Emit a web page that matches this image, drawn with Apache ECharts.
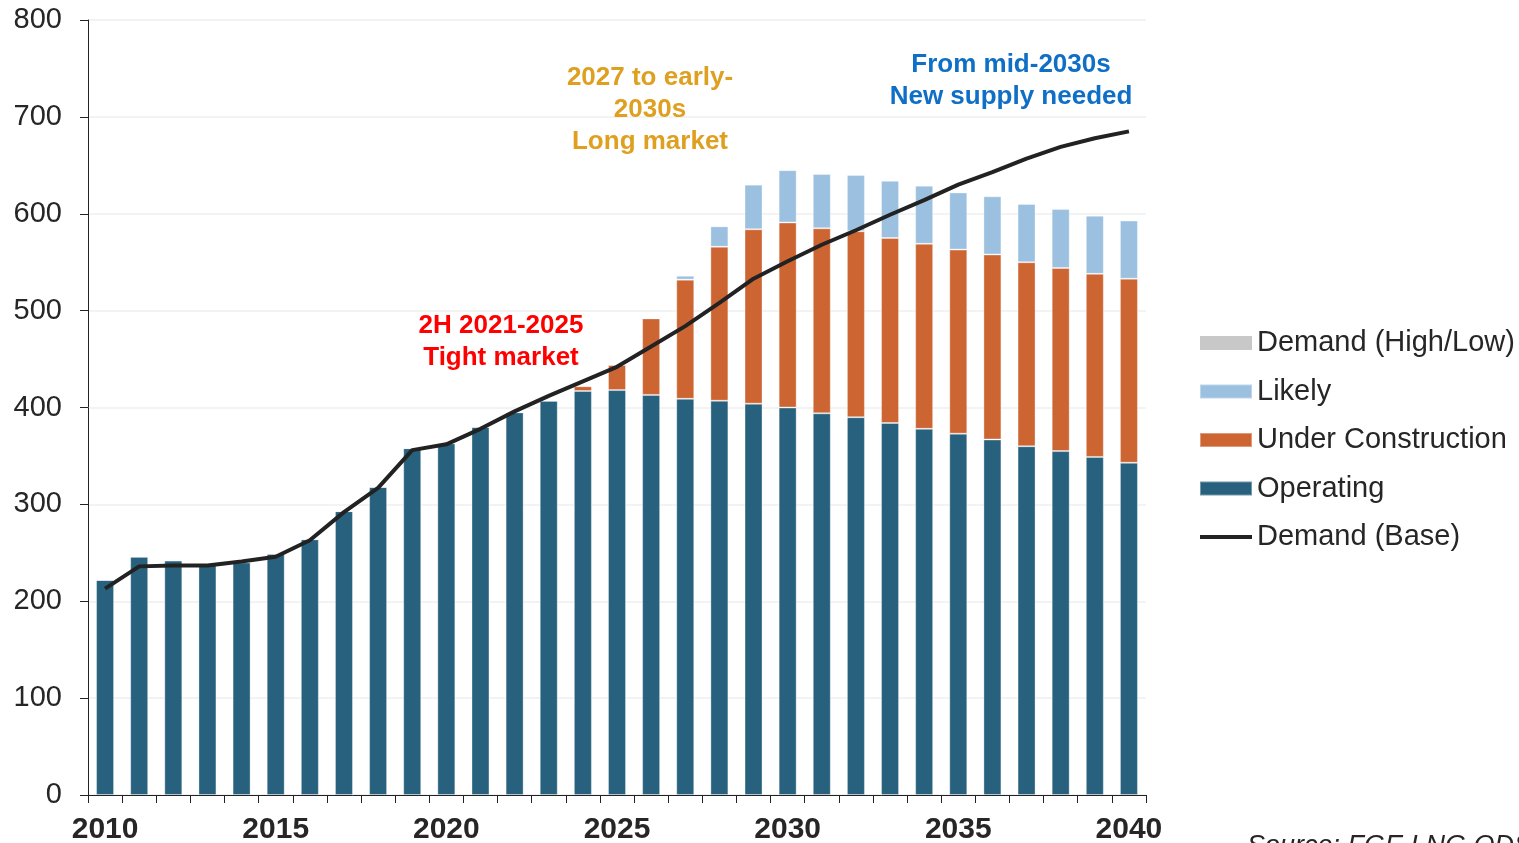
<!DOCTYPE html>
<html>
<head>
<meta charset="utf-8">
<script src="https://cdn.jsdelivr.net/npm/echarts@6/dist/echarts.min.js"></script>
<style>
html,body{margin:0;padding:0;background:#fff;}
#chart{width:1519px;height:843px;}
</style>
</head>
<body>
<div id="chart"></div>
<script>
const years = ['2010','2011','2012','2013','2014','2015','2016','2017','2018','2019','2020','2021','2022','2023','2024','2025','2026','2027','2028','2029','2030','2031','2032','2033','2034','2035','2036','2037','2038','2039','2040'];
const operating = [222,246,242,238,240,249,264,293,318,358,363,380,395,407,417,418,413,409,407,404,400,394,390,384,378,373,367,360,355,349,343];
const underConstruction = [0,0,0,0,0,0,0,0,0,0,0,0,0,0,5,26,79,123,159,180,191,191,192,191,191,190,191,190,189,189,190];
const likely = [0,0,0,0,0,0,0,0,0,0,0,0,0,0,0,0,0,4,21,46,54,56,58,59,60,59,60,60,61,60,60];
const demandBase = [213,236,237,237,241,246,263,292,317,356,362,378,396,412,427,442,463,484,508,533,551,568,583,599,614,630,643,657,669,678,685];
const demandHighLow = [];
const yTicks = [0,100,200,300,400,500,600,700,800];

const chart = echarts.init(document.getElementById('chart'));
const txt = '#262626';
const font = 'Liberation Sans, Arial, sans-serif';
const lineIcon = 'path://M0,0 M52,14 M0,5 L52,5 L52,9 L0,9 Z';
chart.setOption({
  animation:false,
  textStyle:{fontFamily:font},
  grid:{left:88,right:373,top:20,bottom:48,containLabel:false,outerBoundsMode:'none'},
  legend:{
    orient:'vertical', left:1199, top:328, padding:0,
    itemWidth:52, itemHeight:14, itemGap:18.5,
    textStyle:{fontSize:29, color:txt, fontFamily:font, lineHeight:30},
    data:[
      {name:'Demand (High/Low)', icon:'rect'},
      {name:'Likely', icon:'rect'},
      {name:'Under Construction', icon:'rect'},
      {name:'Operating', icon:'rect'},
      {name:'Demand (Base)', icon:lineIcon}
    ]
  },
  xAxis:{
    type:'category', data:years, boundaryGap:true,
    axisLine:{lineStyle:{color:'#222',width:1}},
    axisTick:{show:true, interval:0, length:8, lineStyle:{color:'#222'}},
    axisLabel:{interval:4, fontSize:30, fontWeight:'bold', color:txt, margin:20, fontFamily:font}
  },
  yAxis:{
    type:'value', min:yTicks[0], max:yTicks[yTicks.length-1], interval:100,
    axisLine:{show:true, lineStyle:{color:'#222',width:1}},
    axisTick:{show:true, length:8, lineStyle:{color:'#222'}},
    axisLabel:{fontSize:29, color:txt, margin:26, fontFamily:font},
    splitLine:{show:true, lineStyle:{color:'#efefef',width:1.5}}
  },
  series:[
    {name:'Demand (High/Low)', type:'bar', stack:'hl', data:demandHighLow, itemStyle:{color:'#c8c8c8'}},
    {name:'Operating', type:'bar', stack:'supply', data:operating, barWidth:18,
      itemStyle:{color:'#27617e', borderColor:'rgba(255,255,255,0.35)', borderWidth:1}},
    {name:'Under Construction', type:'bar', stack:'supply', data:underConstruction, barWidth:18,
      itemStyle:{color:'#cd6533', borderColor:'rgba(255,255,255,0.35)', borderWidth:1}},
    {name:'Likely', type:'bar', stack:'supply', data:likely, barWidth:18,
      itemStyle:{color:'#9bc0e0', borderColor:'rgba(255,255,255,0.35)', borderWidth:1}},
    {name:'Demand (Base)', type:'line', data:demandBase, symbol:'none', showSymbol:false,
      lineStyle:{color:'#222222', width:4}, itemStyle:{color:'#222222'}, z:10}
  ],
  graphic:[
    {type:'text', z:20, x:650, y:110, style:{text:'2027 to early-\n2030s\nLong market',
      textAlign:'center', textVerticalAlign:'middle', fill:'#df9f1f', font:'bold 26px Liberation Sans, Arial, sans-serif', lineHeight:32}},
    {type:'text', z:20, x:1011, y:81, style:{text:'From mid-2030s\nNew supply needed',
      textAlign:'center', textVerticalAlign:'middle', fill:'#0f6fc6', font:'bold 26px Liberation Sans, Arial, sans-serif', lineHeight:32}},
    {type:'text', z:20, x:501, y:342, style:{text:'2H 2021-2025\nTight market',
      textAlign:'center', textVerticalAlign:'middle', fill:'#ff0000', font:'bold 26px Liberation Sans, Arial, sans-serif', lineHeight:32}},
    {type:'text', z:20, x:1247, y:833, style:{text:'Source: FGE LNG ODS',
      fill:txt, font:'italic 27px Liberation Sans, Arial, sans-serif'}}
  ]
});
</script>
</body>
</html>
